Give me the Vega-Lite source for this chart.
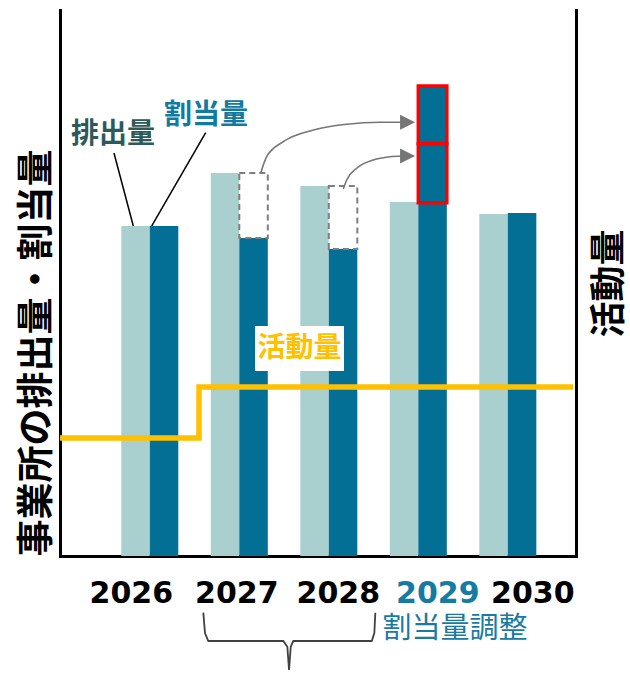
{
  "$schema": "https://vega.github.io/schema/vega-lite/v6.json",
  "width": 516,
  "height": 546,
  "autosize": {"type": "none"},
  "padding": {"left": 60, "top": 10, "right": 54, "bottom": 118},
  "background": "white",
  "config": {"view": {"stroke": null}},
  "resolve": {"scale": {"x": "independent", "y": "independent"}, "axis": {"x": "independent", "y": "independent"}},
  "layer": [
    {
      "encoding": {
        "x": {
          "field": "year", "type": "nominal", "sort": ["2026","2027","2028","2029","2030"],
          "scale": {"domain": ["2026","2027","2028","2029","2030"], "paddingInner": 0.363, "paddingOuter": 0.564, "align": 0.607},
          "axis": {
            "title": null, "ticks": false, "grid": false, "labelAngle": 0,
            "domainColor": "black", "domainWidth": 3, "domainCap": "square",
            "labelFont": "DejaVu Sans", "labelFontWeight": "bold", "labelFontSize": 30,
            "labelPadding": 22, "labelFlush": false, "labelOverlap": false, "labelBound": false,
            "labelColor": {"condition": {"test": "datum.value == '2029'", "value": "#157ba1"}, "value": "black"},
            "labelOffset": {"expr": "datum.value == '2026' ? -18.5 : datum.value == '2027' ? -2.5 : datum.value == '2028' ? 9.5 : datum.value == '2029' ? 19.5 : 25"}
          }
        },
        "xOffset": {
          "field": "series", "type": "nominal", "sort": ["排出量","割当量"],
          "scale": {"domain": ["排出量","割当量"], "paddingInner": 0, "paddingOuter": 0}
        },
        "y": {
          "field": "value", "type": "quantitative",
          "scale": {"domain": [0, 100], "nice": false, "zero": true},
          "axis": {
            "labels": false, "ticks": false, "grid": false,
            "domainColor": "black", "domainWidth": 3, "domainCap": "square",
            "title": "事業所の排出量・割当量", "titleFont": "Noto Sans CJK JP", "titleFontWeight": "bold",
            "titleFontSize": 37, "titleColor": "black", "titleAnchor": "start", "titlePadding": 4
          }
        }
      },
      "layer": [
        {
          "data": {"values": [
            {"year": "2026", "series": "排出量", "value": 60.44},
            {"year": "2026", "series": "割当量", "value": 60.44},
            {"year": "2027", "series": "排出量", "value": 70.15},
            {"year": "2027", "series": "割当量", "value": 58.24},
            {"year": "2028", "series": "排出量", "value": 67.77},
            {"year": "2028", "series": "割当量", "value": 56.23},
            {"year": "2029", "series": "排出量", "value": 64.84},
            {"year": "2029", "series": "割当量", "value": 64.7},
            {"year": "2030", "series": "排出量", "value": 62.64},
            {"year": "2030", "series": "割当量", "value": 62.82}
          ]},
          "mark": {"type": "bar"},
          "encoding": {
            "color": {
              "field": "series", "type": "nominal",
              "scale": {"domain": ["排出量","割当量"], "range": ["#a9cfcf", "#046f95"]},
              "legend": null
            }
          }
        },
        {
          "data": {"values": [
            {"year": "2027", "series": "割当量", "value": 58.24, "top": 70.15},
            {"year": "2028", "series": "割当量", "value": 56.23, "top": 67.77}
          ]},
          "mark": {"type": "bar", "fill": "white", "stroke": "#7f7f7f", "strokeWidth": 2, "strokeDash": [6, 4]},
          "encoding": {"y2": {"field": "top"}}
        },
        {
          "data": {"values": [
            {"year": "2029", "series": "割当量", "value": 64.7, "top": 75.5},
            {"year": "2029", "series": "割当量", "value": 75.5, "top": 86.08}
          ]},
          "mark": {"type": "bar", "fill": "#046f95", "stroke": "#ff0000", "strokeWidth": 3.5},
          "encoding": {"y2": {"field": "top"}}
        }
      ]
    },
    {
      "encoding": {
        "x": {"field": "t", "type": "quantitative", "scale": {"domain": [2025, 2030.765], "nice": false, "zero": false}, "axis": null},
        "y": {
          "field": "v", "type": "quantitative",
          "scale": {"domain": [0, 100], "nice": false, "zero": false},
          "axis": {
            "orient": "right", "labels": false, "ticks": false, "grid": false,
            "domainColor": "black", "domainWidth": 3, "domainCap": "square",
            "title": "活動量", "titleFont": "Noto Sans CJK JP", "titleFontWeight": "bold",
            "titleFontSize": 36, "titleColor": "black", "titleAngle": 270, "titleBaseline": "top", "titlePadding": 16
          }
        }
      },
      "layer": [
        {
          "data": {"values": [
            {"t": 2025.0, "v": 21.6},
            {"t": 2026.553, "v": 30.95},
            {"t": 2030.732, "v": 30.95}
          ]},
          "mark": {"type": "line", "interpolate": "step-after", "color": "#ffc000", "strokeWidth": 5.5}
        },
        {
          "data": {"values": [
            {"t": 2027.179, "v": 33.88, "t2": 2028.173, "v2": 42.12}
          ]},
          "mark": {"type": "rect", "fill": "white"},
          "encoding": {"x2": {"field": "t2"}, "y2": {"field": "v2"}}
        },
        {
          "data": {"values": [
            {"t": 2027.676, "v": 38.0, "label": "活動量"}
          ]},
          "mark": {"type": "text", "font": "Noto Sans CJK JP", "fontWeight": "bold", "fontSize": 28, "color": "#ffc000", "align": "center", "baseline": "middle"},
          "encoding": {"text": {"field": "label"}}
        },
        {
          "data": {"values": [
            {"t": 2025.603, "v": 73.81, "t2": 2025.819, "v2": 60.44},
            {"t": 2026.628, "v": 77.53, "t2": 2026.025, "v2": 60.44}
          ]},
          "mark": {"type": "rule", "color": "black", "strokeWidth": 1.5},
          "encoding": {"x2": {"field": "t2"}, "y2": {"field": "v2"}}
        },
        {
          "data": {"values": [
            {"t": 2025.592, "v": 77.11, "label": "排出量"}
          ]},
          "mark": {"type": "text", "font": "Noto Sans CJK JP", "fontWeight": "bold", "fontSize": 28, "color": "#2d5959", "align": "center", "baseline": "middle"},
          "encoding": {"text": {"field": "label"}}
        },
        {
          "data": {"values": [
            {"t": 2026.631, "v": 80.59, "label": "割当量"}
          ]},
          "mark": {"type": "text", "font": "Noto Sans CJK JP", "fontWeight": "bold", "fontSize": 28, "color": "#127a9f", "align": "center", "baseline": "middle"},
          "encoding": {"text": {"field": "label"}}
        },
        {
          "data": {"values": [
            {"id": "a", "t": 2027.242, "v": 70.09},
            {"id": "a", "t": 2027.309, "v": 73.13},
            {"id": "a", "t": 2027.495, "v": 75.88},
            {"id": "a", "t": 2027.830, "v": 78.02},
            {"id": "a", "t": 2028.203, "v": 79.07},
            {"id": "a", "t": 2028.575, "v": 79.43},
            {"id": "a", "t": 2028.821, "v": 79.43},
            {"id": "b", "t": 2028.165, "v": 67.2},
            {"id": "b", "t": 2028.203, "v": 68.86},
            {"id": "b", "t": 2028.315, "v": 71.01},
            {"id": "b", "t": 2028.501, "v": 72.53},
            {"id": "b", "t": 2028.687, "v": 73.13},
            {"id": "b", "t": 2028.821, "v": 73.26}
          ]},
          "mark": {"type": "line", "interpolate": "monotone", "color": "#767676", "strokeWidth": 1.6},
          "encoding": {"detail": {"field": "id", "type": "nominal"}}
        },
        {
          "data": {"values": [
            {"t": 2028.883, "v": 79.43},
            {"t": 2028.883, "v": 73.26}
          ]},
          "mark": {"type": "point", "shape": "M-1,-1L1,0L-1,1Z", "size": 225, "filled": true, "color": "#767676", "opacity": 1, "strokeWidth": 0}
        },
        {
          "data": {"values": [
            {"t": 2026.601, "v": -10.38},
            {"t": 2026.620, "v": -14.10},
            {"t": 2026.657, "v": -15.57},
            {"t": 2027.495, "v": -15.57},
            {"t": 2027.540, "v": -16.61},
            {"t": 2027.559, "v": -20.88},
            {"t": 2027.578, "v": -16.61},
            {"t": 2027.607, "v": -15.57},
            {"t": 2028.483, "v": -15.57},
            {"t": 2028.512, "v": -14.10},
            {"t": 2028.523, "v": -10.38}
          ]},
          "mark": {"type": "line", "color": "#404040", "strokeWidth": 1.8}
        },
        {
          "data": {"values": [
            {"t": 2029.413, "v": -13.4, "label": "割当量調整"}
          ]},
          "mark": {"type": "text", "font": "Noto Sans CJK JP", "fontSize": 29, "color": "#1a7aa0", "align": "center", "baseline": "middle"},
          "encoding": {"text": {"field": "label"}}
        }
      ]
    }
  ]
}
